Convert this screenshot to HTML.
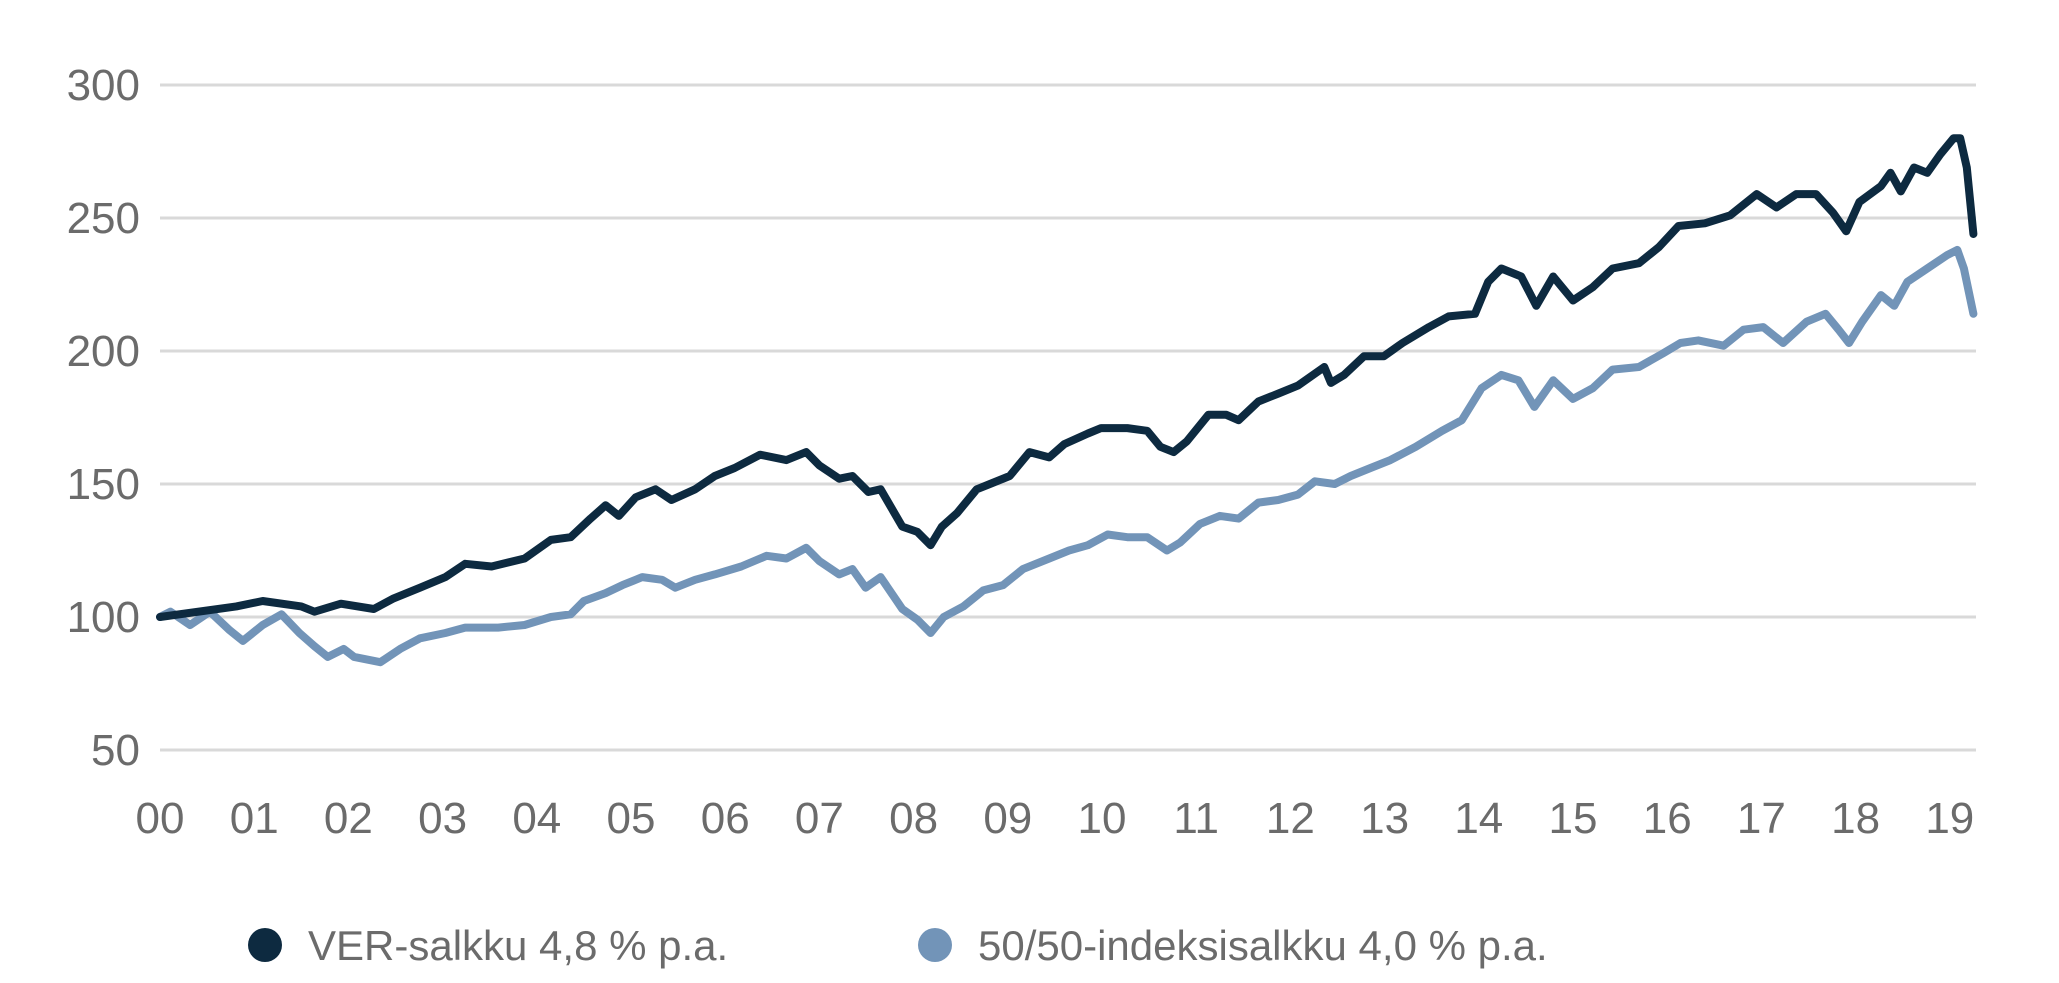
<!DOCTYPE html>
<html><head><meta charset="utf-8"><style>
html,body{margin:0;padding:0;background:#fff;}
svg text{font-family:"Liberation Sans",sans-serif;fill:#6b6b6b;}
</style></head><body>
<svg id="chart" width="2059" height="978" viewBox="0 0 2059 978" xmlns="http://www.w3.org/2000/svg">
<g id="grid"></g>
<g id="yaxis"></g>
<g id="xaxis"></g>
<g id="series"></g>
<g>
<circle cx="265" cy="945" r="17" fill="#0d2a40"/>
<text x="308" y="960" font-size="42">VER-salkku 4,8 % p.a.</text>
<circle cx="935" cy="945" r="17" fill="#7294b8"/>
<text x="978" y="960" font-size="42">50/50-indeksisalkku 4,0 % p.a.</text>
</g>
</svg>
<script>
const yTicks=[50,100,150,200,250,300];
const xTickLabels=["00","01","02","03","04","05","06","07","08","09","10","11","12","13","14","15","16","17","18","19"];
const verYears=[0,0.81,1.09,1.50,1.64,1.92,2.27,2.48,2.76,3.03,3.24,3.52,3.87,4.15,4.36,4.57,4.73,4.87,5.05,5.26,5.43,5.68,5.89,6.10,6.37,6.65,6.86,7.00,7.21,7.35,7.52,7.65,7.88,8.04,8.18,8.30,8.46,8.67,8.81,9.02,9.23,9.44,9.60,9.85,9.99,10.27,10.48,10.62,10.76,10.90,11.13,11.32,11.45,11.66,11.87,12.08,12.36,12.43,12.57,12.78,12.99,13.19,13.47,13.68,13.96,14.10,14.24,14.45,14.61,14.79,15.00,15.21,15.42,15.70,15.91,16.12,16.40,16.67,16.95,17.16,17.37,17.58,17.76,17.90,18.04,18.27,18.37,18.48,18.62,18.76,18.90,19.04,19.11,19.18,19.25];
const verValues=[100,104,106,104,102,105,103,107,111,115,120,119,122,129,130,137,142,138,145,148,144,148,153,156,161,159,162,157,152,153,147,148,134,132,127,134,139,148,150,153,162,160,165,169,171,171,170,164,162,166,176,176,174,181,184,187,194,188,191,198,198,203,209,213,214,226,231,228,217,228,219,224,231,233,239,247,248,251,259,254,259,259,252,245,256,262,267,260,269,267,274,280,280,269,244];
const idxYears=[0,0.11,0.32,0.53,0.74,0.88,1.09,1.29,1.48,1.64,1.78,1.95,2.06,2.34,2.55,2.76,3.03,3.24,3.59,3.87,4.15,4.36,4.50,4.73,4.91,5.12,5.33,5.47,5.68,5.89,6.17,6.44,6.65,6.86,7.00,7.21,7.35,7.49,7.65,7.88,8.04,8.18,8.32,8.53,8.74,8.95,9.16,9.44,9.65,9.85,10.06,10.27,10.48,10.69,10.83,11.04,11.25,11.45,11.66,11.87,12.08,12.26,12.47,12.64,12.85,13.06,13.33,13.61,13.82,14.03,14.24,14.42,14.59,14.79,15.00,15.21,15.42,15.70,15.95,16.14,16.33,16.60,16.81,17.02,17.23,17.48,17.68,17.82,17.93,18.07,18.27,18.41,18.55,18.76,18.97,19.08,19.15,19.25];
const idxValues=[100,102,97,102,95,91,97,101,94,89,85,88,85,83,88,92,94,96,96,97,100,101,106,109,112,115,114,111,114,116,119,123,122,126,121,116,118,111,115,103,99,94,100,104,110,112,118,122,125,127,131,130,130,125,128,135,138,137,143,144,146,151,150,153,156,159,164,170,174,186,191,189,179,189,182,186,193,194,199,203,204,202,208,209,203,211,214,208,203,211,221,217,226,231,236,238,231,214];

const NS="http://www.w3.org/2000/svg";
const X0=160,X1=1976,PX=94.2;
const xs=yr=>X0+yr*PX;
const ys=v=>85+(300-v)*2.66;
function mk(tag,attrs,parent){const e=document.createElementNS(NS,tag);for(const k in attrs)e.setAttribute(k,attrs[k]);parent.appendChild(e);return e;}
const grid=document.getElementById('grid'),ya=document.getElementById('yaxis'),xa=document.getElementById('xaxis'),se=document.getElementById('series');
yTicks.forEach(t=>{
  const l=mk('line',{x1:X0,x2:X1,y1:ys(t),y2:ys(t),stroke:'#d9d9d9','stroke-width':3},grid);
  
  
  const tx=mk('text',{x:140,y:ys(t)+15,'text-anchor':'end','font-size':44},ya);
  tx.textContent=t;
  
  
});
xTickLabels.forEach((lab,i)=>{
  const tx=mk('text',{x:xs(i),y:833,'text-anchor':'middle','font-size':44},xa);
  tx.textContent=lab;
  
  
});
function line(yrs,vals,color,name){
  const d=yrs.map((y,i)=>(i?'L':'M')+xs(y).toFixed(1)+' '+ys(vals[i]).toFixed(1)).join(' ');
  const p=mk('path',{d:d,fill:'none',stroke:color,'stroke-width':8,'stroke-linejoin':'round','stroke-linecap':'round'},se);
  
  
}
line(idxYears,idxValues,'#7294b8','index-portfolio-line');
line(verYears,verValues,'#0d2a40','ver-portfolio-line');
</script>
</body></html>
